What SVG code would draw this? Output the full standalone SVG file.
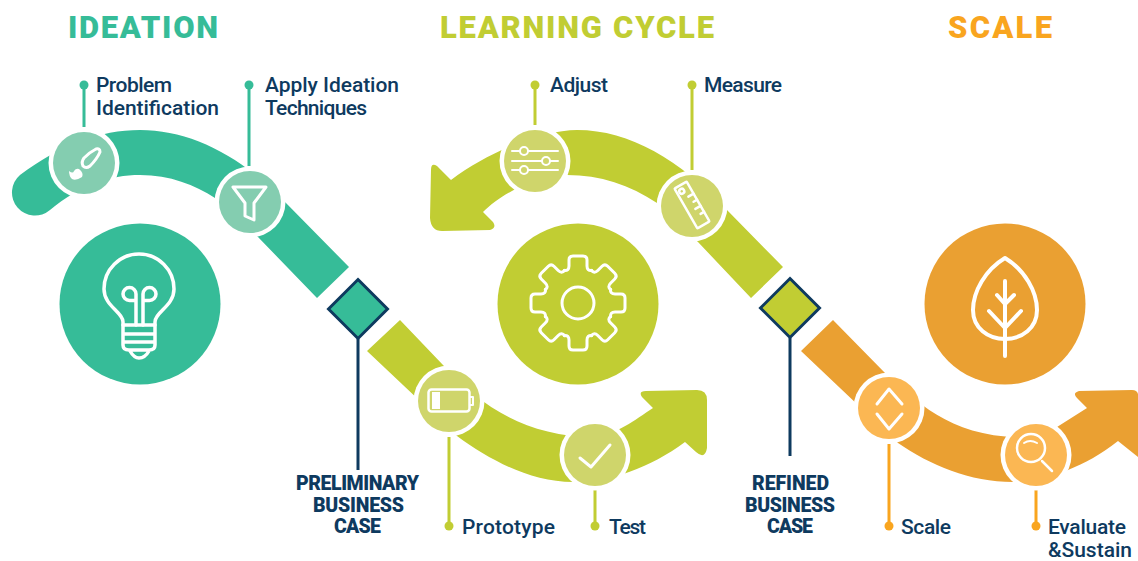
<svg xmlns="http://www.w3.org/2000/svg" xmlns:xlink="http://www.w3.org/1999/xlink" width="1138" height="561" viewBox="0 0 1138 561">
<style>
.t{font-family:Roboto,"Liberation Sans",sans-serif;font-weight:900;font-size:31px}
.l{font-family:Roboto,"Liberation Sans",sans-serif;font-weight:500;font-size:21px;fill:#0e3a5f}
.b{font-family:Roboto,"Liberation Sans",sans-serif;font-weight:900;font-size:19.5px;fill:#0e3a5f}
.ring{fill:#fff}
.ic{fill:none;stroke:#fff;stroke-width:3;stroke-linecap:round;stroke-linejoin:round}
.thin{stroke-width:2}
.teal{fill:#36bc98}.lteal{fill:#84cdb0}
.green{fill:#c1cd33}.lgreen{fill:#cfd56b}
.orange{fill:#eaa032}.lorange{fill:#fbb753}
.leader{stroke-width:3;fill:none}
.dia{stroke:#0e3a5f;stroke-width:3}
</style>
<defs>
<path id="tooth" class="ic" d="M-13.8 -32.5Q-9 -32 -9 -37V-43Q-9 -47 -5 -47H5Q9 -47 9 -43V-37Q9 -32 13.8 -32.5"/>
</defs>

<g id="titles">
<text class="t" x="68" y="38" textLength="150" fill="#36bc98">IDEATION</text>
<text class="t" x="440" y="38" textLength="274" fill="#c1cd33">LEARNING CYCLE</text>
<text class="t" x="948" y="38" textLength="104" fill="#f9a51f">SCALE</text>
</g>

<g id="bands">
<path id="band-ideation" class="teal" d="M349 267L285 202C240 155 190 130 140 130C100 130 60 145 20 175A23 23 0 0 0 50 210C80 185 110 175 140 175C170 175 195 185 215 198L258 237L317 298Z"/>
<path id="band-prototype" class="green" d="M400 320L443 365C480 405 525 437 595 437C615 435 635 420 653 408L642 397Q638 391 646 391L697 390Q707 390 707 400V448Q705 460 696 452L685 442C650 468 610 482 573 482C530 482 490 460 457 436L367 351Z"/>
<path id="band-adjust" class="green" d="M783 267L727 210C680 160 630 130 577 130C545 130 490 150 451 180L437 166Q431 162 431 170L430 218Q431 231 442 231L490 230Q497 228 493 222L483 212C500 195 535 175 567 175C600 175 630 185 657 203L698 242L751 298Z"/>
<path id="band-scale" class="orange" d="M833 320L885 373C915 400 950 437 1020 437C1035 437 1045 432 1057 427L1087 408L1077 398Q1072 393 1079 391L1132 390Q1137 390 1138 394V457L1118 441C1100 455 1085 463 1068 470C1050 478 1030 482 1013 482C970 482 930 465 898 443L801 351Z"/>
</g>

<g id="connectors">
<g class="leader" stroke="#36bc98"><path d="M84 85V127M249 85V166"/></g>
<g class="leader" stroke="#c1cd33"><path d="M535 85V125M692 85V170M449 437V526M595 490V526"/></g>
<g class="leader" stroke="#f9a51f"><path d="M889 444V526M1036 490V526"/></g>
<g class="leader" stroke="#0e3a5f"><path d="M358 339V470M790 338V456"/></g>
<circle cx="84" cy="85" r="4.500" class="teal"/>
<circle cx="249" cy="85" r="4.500" class="teal"/>
<circle cx="535" cy="85" r="4.500" class="green"/>
<circle cx="692" cy="85" r="4.500" class="green"/>
<circle cx="449" cy="526" r="4.500" class="green"/>
<circle cx="595" cy="526" r="4.500" class="green"/>
<circle cx="889" cy="526" r="4.500" fill="#f9a51f"/>
<circle cx="1036" cy="526" r="4.500" fill="#f9a51f"/>
</g>

<g id="ideation-hub">
<circle cx="140" cy="304" r="80.500" class="teal"/>
<g class="ic" style="stroke-width:3.500">
<path d="M123 325V322C123 312 104 306 104 289A35 35 0 0 1 174 289C174 306 155 312 155 322V325"/>
<path d="M123 325H155M123 334H155M123 342H155M123 325V345Q123 350 129 350H149Q155 350 155 345V325M130 351Q134 358 139 358Q145 358 149 351"/>
<path d="M136 325V294A6.500 6.500 0 1 0 129.500 300.500H136M143 325V294A6.500 6.500 0 1 1 149.500 300.500H143"/>
</g>
</g>

<g id="learning-hub">
<circle cx="578" cy="304" r="80.500" class="green"/>
<circle cx="578" cy="303" r="16" class="ic"/>
<g transform="translate(578 303)">
<use href="#tooth"/><use href="#tooth" transform="rotate(45)"/><use href="#tooth" transform="rotate(90)"/><use href="#tooth" transform="rotate(135)"/><use href="#tooth" transform="rotate(180)"/><use href="#tooth" transform="rotate(225)"/><use href="#tooth" transform="rotate(270)"/><use href="#tooth" transform="rotate(315)"/>
</g>
</g>

<g id="scale-hub">
<circle cx="1005" cy="304" r="80.500" class="orange"/>
<g class="ic" style="stroke-width:4">
<path d="M1005 258C985 270 973 292 973 310C973 328 988 339 1005 339C1022 339 1037 328 1037 310C1037 292 1025 270 1005 258Z"/>
<path d="M1005 281V356M997 295L1005 304L1014 295M989 311L1005 328L1021 311"/>
</g>
</g>

<g id="problem-identification">
<circle cx="84" cy="163" r="35.500" class="ring"/><circle cx="84" cy="163" r="31" class="lteal"/>
<path class="ic" d="M96 149Q100 148 100 152Q97 159 90 166Q86 169 83 166Q81 162 84 158Q90 152 96 149Z"/>
<path fill="#fff" d="M69 171Q73 174 74 171Q76 168 79 169Q84 173 82 177Q76 181 72 179Q69 176 69 171Z"/>
<text class="l" x="96" y="92" textLength="76">Problem</text>
<text class="l" x="96" y="115" textLength="123">Identification</text>
</g>

<g id="apply-ideation">
<circle cx="250" cy="202" r="35.500" class="ring"/><circle cx="250" cy="202" r="31" class="lteal"/>
<path class="ic" d="M233 187H266L254 203V220L245 216V203Z"/>
<text class="l" x="265" y="92" textLength="134">Apply Ideation</text>
<text class="l" x="265" y="115" textLength="102">Techniques</text>
</g>

<g id="preliminary-case">
<path class="teal dia" d="M358 279.500L387.500 309L358 338.500L328.500 309Z"/>
<text class="b" x="296" y="490" textLength="123">PRELIMINARY</text>
<text class="b" x="313" y="512" textLength="91">BUSINESS</text>
<text class="b" x="334" y="533" textLength="47">CASE</text>
</g>

<g id="prototype">
<circle cx="449" cy="401" r="35.500" class="ring"/><circle cx="449" cy="401" r="31" class="lgreen"/>
<rect x="428.500" y="389.500" width="41" height="22" rx="3" class="ic thin" style="stroke-width:2.500"/>
<path class="ic thin" d="M470 397H473V405H470"/>
<rect x="432" y="392" width="8" height="17" fill="#fff"/>
<text class="l" x="462" y="534" textLength="93">Prototype</text>
</g>

<g id="test">
<circle cx="595" cy="455" r="35.500" class="ring"/><circle cx="595" cy="455" r="31" class="lgreen"/>
<path class="ic" d="M580 458L591 467L610 445"/>
<text class="l" x="609" y="534" textLength="37">Test</text>
</g>

<g id="adjust">
<circle cx="535" cy="161" r="35.500" class="ring"/><circle cx="535" cy="161" r="31" class="lgreen"/>
<path class="ic thin" d="M512 151H558M512 161H558M512 170H558"/>
<circle cx="524" cy="151" r="4" class="lgreen" stroke="#fff" stroke-width="2"/>
<circle cx="546" cy="161" r="4" class="lgreen" stroke="#fff" stroke-width="2"/>
<circle cx="524" cy="170" r="4" class="lgreen" stroke="#fff" stroke-width="2"/>
<text class="l" x="550" y="92" textLength="58">Adjust</text>
</g>

<g id="measure">
<circle cx="692" cy="206" r="35.500" class="ring"/><circle cx="692" cy="206" r="31" class="lgreen"/>
<g transform="rotate(-30 692 205)" class="ic" style="stroke-width:2.500">
<rect x="685" y="182" width="14" height="46" rx="1"/>
<circle cx="690" cy="188" r="2.500"/>
<path d="M699 196H693M699 203H695M699 210H693M699 217H695"/>
</g>
<text class="l" x="704" y="92" textLength="78">Measure</text>
</g>

<g id="refined-case">
<path class="green dia" d="M790 278.500L819.500 308L790 337.500L760.500 308Z"/>
<text class="b" x="752" y="490" textLength="77">REFINED</text>
<text class="b" x="745" y="512" textLength="90">BUSINESS</text>
<text class="b" x="767" y="533" textLength="46">CASE</text>
</g>

<g id="scale">
<circle cx="889" cy="408" r="35.500" class="ring"/><circle cx="889" cy="408" r="31" class="lorange"/>
<path class="ic" d="M877 404L889 389L902 404M877 414L889 429L902 414"/>
<text class="l" x="901" y="534" textLength="50">Scale</text>
</g>

<g id="evaluate">
<circle cx="1036" cy="455" r="35.500" class="ring"/><circle cx="1036" cy="455" r="31" class="lorange"/>
<circle cx="1031" cy="448" r="14" class="ic" style="stroke-width:2.500"/>
<path class="ic" style="stroke-width:2.500" d="M1042 461L1052 471"/>
<path class="ic thin" d="M1024 443Q1030 439 1037 443"/>
<text class="l" x="1048" y="534" textLength="78">Evaluate</text>
<text class="l" x="1048" y="557" textLength="84">&amp;Sustain</text>
</g>
</svg>
